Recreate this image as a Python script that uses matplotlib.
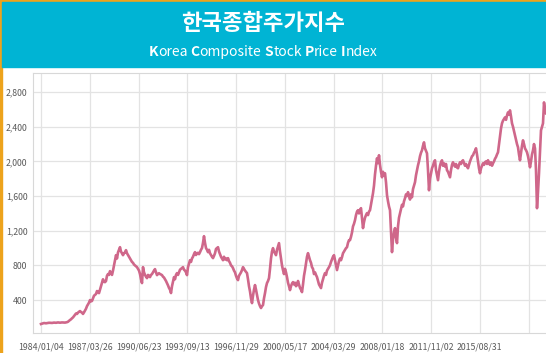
import numpy as np
import matplotlib
matplotlib.use("Agg")
import matplotlib.pyplot as plt
from matplotlib.patches import Rectangle

# 한글 폰트 설정
plt.rcParams['font.family'] = ['Noto Sans CJK KR', 'DejaVu Sans']

# KOSPI, 16 거래일 간격 표본
kospi = [
    124, 128, 132, 135, 133, 132, 134, 136, 138, 138,
    137, 136, 138, 140, 139, 138, 140, 142, 140, 139,
    141, 142, 141, 140, 140, 142, 145, 150, 160, 170,
    178, 190, 200, 215, 230, 245, 240, 255, 265, 273,
    262, 255, 240, 258, 280, 300, 330, 350, 370, 400,
    385, 390, 420, 450, 460, 470, 504, 495, 480, 520,
    560, 600, 640, 610, 607, 620, 680, 700, 690, 734,
    710, 690, 740, 800, 860, 918, 880, 950, 980, 1010,
    960, 940, 918, 940, 950, 976, 940, 920, 900, 880,
    860, 840, 830, 810, 800, 790, 780, 760, 740, 700,
    640, 596, 780, 720, 690, 670, 653, 690, 680, 665,
    690, 700, 720, 740, 757, 720, 688, 700, 710, 700,
    695, 688, 670, 660, 640, 620, 596, 570, 540, 520,
    481, 560, 610, 665, 640, 690, 711, 690, 720, 750,
    760, 770, 780, 750, 740, 720, 688, 780, 820, 860,
    840, 880, 900, 930, 953, 920, 940, 945, 930, 953,
    980, 1000, 1060, 1137, 1060, 1000, 980, 953, 980, 940,
    920, 900, 884, 910, 940, 990, 1000, 1010, 960, 930,
    900, 880, 860, 900, 870, 880, 860, 884, 850, 830,
    800, 790, 769, 740, 720, 680, 650, 630, 680, 700,
    720, 746, 780, 760, 740, 725, 711, 640, 560, 500,
    420, 365, 450, 520, 573, 520, 460, 400, 360, 330,
    308, 330, 342, 420, 480, 550, 596, 620, 653, 760,
    880, 960, 999, 960, 940, 918, 980, 1020, 1057, 960,
    880, 800, 746, 700, 760, 720, 665, 600, 560, 515,
    560, 590, 607, 580, 600, 560, 573, 620, 580, 540,
    520, 492, 580, 680, 746, 820, 900, 941, 900, 860,
    830, 780, 760, 700, 720, 690, 665, 620, 580, 560,
    538, 600, 640, 680, 711, 690, 740, 760, 780, 803,
    840, 870, 900, 918, 860, 800, 746, 800, 850, 880,
    860, 895, 940, 960, 980, 999, 1010, 1060, 1091, 1091,
    1130, 1180, 1250, 1280, 1322, 1380, 1420, 1437, 1400, 1440,
    1460, 1350, 1230, 1300, 1350, 1380, 1403, 1380, 1420, 1437,
    1500, 1560, 1633, 1720, 1850, 1950, 2036, 1980, 2071, 1960,
    1880, 1817, 1880, 1840, 1863, 1760, 1610, 1540, 1480, 1437,
    1200, 953, 1100, 1180, 1230, 1120, 1057, 1250, 1350, 1403,
    1450, 1500, 1480, 1540, 1575, 1620, 1600, 1645, 1600, 1560,
    1620, 1587, 1680, 1720, 1760, 1840, 1900, 1955, 2000, 2060,
    2100, 2128, 2180, 2220, 2150, 2120, 2093, 1900, 1667, 1800,
    1860, 1921, 1950, 1990, 2013, 1900, 1840, 1783, 1880, 1950,
    1990, 2013, 1950, 1978, 1940, 1970, 1898, 1880, 1850, 1817,
    1900, 1960, 1990, 1960, 1940, 1970, 1930, 1921, 1960, 1990,
    1970, 2000, 2013, 1980, 1950, 1970, 1940, 1921, 1960, 2000,
    2030, 2060, 2071, 2100, 2120, 2151, 2080, 2000, 1920, 1863,
    1920, 1950, 1978, 1960, 1990, 2000, 1970, 2013, 1980, 1960,
    1990, 1950, 1978, 2000, 2030, 2050, 2080, 2105, 2200, 2300,
    2380, 2439, 2470, 2490, 2508, 2480, 2530, 2566, 2540, 2589,
    2520, 2439, 2400, 2350, 2301, 2250, 2200, 2163, 2080, 2013,
    2100, 2180, 2243, 2200, 2150, 2130, 2105, 2060, 2000, 1932,
    2000, 2080, 2128, 2200, 2150, 1900, 1460, 1650, 1863, 2100,
    2358, 2400, 2439, 2681, 2600, 2555,
]
sample_step = 16          # 거래일
tick_step = 780           # 거래일
x_labels = ['1984/01/04', '1987/03/26', '1990/06/23', '1993/09/13', '1996/11/29',
            '2000/05/17', '2004/03/29', '2008/01/18', '2011/11/02', '2015/08/31', '']
y_ticks = [400, 800, 1200, 1600, 2000, 2400, 2800]
# 부제목: (글자, 굵게 여부)
subtitle = [('K', True), ('orea', False), (' ', False), ('C', True), ('omposite', False),
            (' ', False), ('S', True), ('tock', False), (' ', False), ('P', True),
            ('rice', False), (' ', False), ('I', True), ('ndex', False)]

days = np.arange(len(kospi)) * sample_step

fig = plt.figure(figsize=(5.46, 3.53), dpi=100)
fig.patch.set_facecolor('white')

# 테두리와 헤더
fig.add_artist(Rectangle((0, 0), 2 / 546, 1, transform=fig.transFigure,
                         color='#eda31c', zorder=0))
fig.add_artist(Rectangle((0, 1 - 2 / 353), 1, 2 / 353, transform=fig.transFigure,
                         color='#eda31c', zorder=0))
fig.add_artist(Rectangle((2 / 546, 1 - 67 / 353), 1, 65 / 353, transform=fig.transFigure,
                         color='#00b4d4', zorder=0))
fig.text(263 / 546, 1 - 24 / 353, '한국종합주가지수', color='white', fontsize=16,
         fontweight='bold', ha='center', va='center')

# 부제목 조각별로 폭을 재서 이어 붙이기
renderer = fig.canvas.get_renderer()
def text_width(s, bold):
    t = fig.text(0, 0, s, fontsize=10, fontweight='bold' if bold else 'normal')
    w = t.get_window_extent(renderer).width
    t.remove()
    return w

space_w = text_width('a a', False) - text_width('aa', False)
widths = [space_w if s == ' ' else text_width(s, b) for s, b in subtitle]
x = 263 - sum(widths) / 2
for (s, b), w in zip(subtitle, widths):
    if s != ' ':
        fig.text(x / 546, 1 - 52 / 353, s, color='white', fontsize=10,
                 fontweight='bold' if b else 'normal', ha='left', va='center')
    x += w

ax = fig.add_axes([33 / 546, 20 / 353, 513 / 546, 260 / 353])
ax.plot(days, kospi, color='#cf678a', lw=1.9)

ax.set_xlim(-8 * sample_step, days[-1])
ax.set_ylim(20, 3020)
ax.set_xticks(np.arange(len(x_labels)) * tick_step)
ax.set_xticklabels(x_labels)
ax.set_yticks(y_ticks)
ax.set_yticklabels([f'{v:,}' for v in y_ticks])
ax.tick_params(length=0, labelsize=6.3, colors='#5a5a5a')
ax.tick_params(axis='x', pad=7)
ax.tick_params(axis='y', pad=4)
ax.grid(color='#e3e3e3', lw=0.9)
ax.set_axisbelow(True)
for side in ['left', 'top', 'bottom']:
    ax.spines[side].set_color('#d8d8d8')
ax.spines['right'].set_visible(False)

fig.savefig('out.png', dpi=100)
